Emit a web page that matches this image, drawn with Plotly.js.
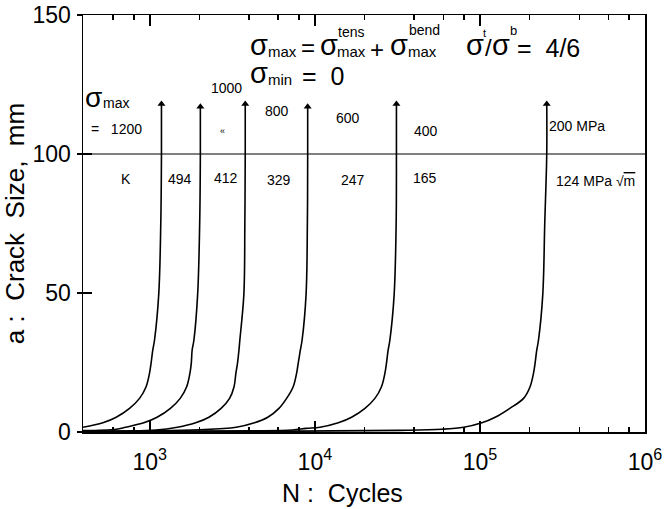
<!DOCTYPE html>
<html><head><meta charset="utf-8">
<script src="https://cdn.plot.ly/plotly-3.0.1.min.js"></script>
<style>html,body{margin:0;padding:0;background:#fff}</style>
</head><body><div id="chart" style="width:665px;height:509px"></div>
<script>
// ---- data ----
const stressLabels = ['1200', '1000', '800', '600', '400', '200 MPa'];
const kLabels = ['494', '412', '329', '247', '165', '124 MPa'];

const N1200 = [394, 520, 626, 754, 867, 950, 996, 1018, 1043, 1068, 1133, 1166, 1177, 1177];
const a1200 = [1.7, 3.3, 5.3, 8.5, 12.1, 16.3, 21.1, 24.7, 29.5, 33, 49.5, 75, 100, 118];

const N1000 = [394, 626, 713, 920, 1107, 1334, 1529, 1673, 1750, 1784, 1806, 1850, 1950, 2006, 2025, 2025];
const a1000 = [0.5, 1.0, 1.7, 3.3, 5.3, 8.5, 12.1, 16.3, 21.1, 24.7, 29.5, 33, 49.5, 75, 100, 117];

const N800 = [394, 1092, 1470, 1897, 2282, 2704, 3044, 3240, 3323, 3398, 3470, 3512, 3715, 3766, 3787, 3787];
const a800 = [0.3, 0.7, 1.7, 3.3, 5.3, 8.5, 12.1, 16.3, 21.1, 24.7, 29.5, 33, 49.5, 75, 100, 118];

const N600 = [394, 2006, 3341, 4309, 5185, 6061, 6745, 7394, 7751, 7926, 8171, 8367, 8849, 9010, 9048, 9048];
const a600 = [0.2, 0.8, 1.7, 3.3, 5.3, 8.5, 12.1, 16.3, 21.1, 24.7, 29.5, 33, 49.5, 75, 100, 117];

const N400 = [394, 4020, 7311, 8849, 10750, 13870, 16690, 20110, 23110, 25330, 26560, 27150, 27800, 28470, 30230, 31080, 31210, 31210];
const a400 = [0.1, 0.4, 0.7, 1.3, 1.7, 3.3, 5.3, 8.5, 12.1, 16.3, 21.1, 24.7, 29.5, 33, 49.5, 75, 100, 118];

const N200 = [394, 8059, 32400, 58920, 79690, 102800, 123700, 151800, 183800, 201300, 211100, 215800, 221000, 226300, 240300, 247000, 254000, 254000];
const a200 = [0.05, 0.3, 0.6, 1.0, 1.7, 3.3, 5.3, 8.5, 12.1, 16.3, 21.1, 24.7, 29.5, 33, 49.5, 75, 100, 118];

const majorTicks = [1e3, 1e4, 1e5, 1e6];
const majorText = ['10<sup>3</sup>', '10<sup>4</sup>', '10<sup>5</sup>', '10<sup>6</sup>'];
const minorTicks = [600, 800, 2000, 4000, 6000, 8000, 20000, 40000, 60000, 80000, 200000, 400000, 600000, 800000];
const yTicks = [0, 50, 100, 150];
const failureSize = 100;

// ---- drawing ----
const FONT = 'Liberation Sans, Arial, Helvetica, sans-serif';
const TICK = '#000';
const curves = [[N1200, a1200], [N1000, a1000], [N800, a800], [N600, a600], [N400, a400], [N200, a200]];

const traces = curves.map(([n, a], i) => ({
  x: n, y: a, type: 'scatter', mode: 'lines', name: stressLabels[i],
  line: {color: '#000', width: 1.6, shape: 'spline', smoothing: 1},
  hoverinfo: 'skip', showlegend: false
}));
traces.push({
  x: curves.map(c => c[0][c[0].length - 1]),
  y: curves.map(c => c[1][c[1].length - 1]),
  type: 'scatter', mode: 'markers', showlegend: false, hoverinfo: 'skip',
  marker: {symbol: 'triangle-up', size: 7, color: '#000'}
});
// invisible carriers so the tick-only overlay axes get drawn
[['x2', 'y'], ['x3', 'y'], ['x4', 'y'], ['x', 'y2']].forEach(([xa, ya]) => traces.push({
  x: [majorTicks[0]], y: [yTicks[0]], xaxis: xa, yaxis: ya, type: 'scatter', mode: 'markers',
  marker: {opacity: 0, size: 1}, showlegend: false, hoverinfo: 'skip'
}));

const L = 83, R = 645, T = 15, B = 432;
const px = x => (x - L) / (R - L);
const py = y => (B - y) / (B - T);
function txt(x, y, text, size, extra) {
  return Object.assign({
    xref: 'paper', yref: 'paper', x: px(x), y: py(y), xanchor: 'left', yanchor: 'middle',
    text: text, showarrow: false, font: {family: FONT, size: size, color: '#000'}
  }, extra || {});
}

const ann = [
  // formula row 1
  txt(248, 45, 'σ', 29), txt(266, 51, 'max', 15), txt(299, 48, '=', 24),
  txt(318, 45, 'σ', 29), txt(336, 32, 'tens', 14), txt(335, 51, 'max', 15),
  txt(368, 49, '+', 24),
  txt(388, 45, 'σ', 29), txt(407, 30, 'bend', 14), txt(406, 51, 'max', 15),
  txt(464, 45, 'σ', 29), txt(481, 33, 't', 11), txt(483, 48, '/', 24),
  txt(490, 45, 'σ', 29), txt(508, 31, 'b', 13), txt(515, 48, '=  4/6', 25),
  // formula row 2
  txt(248, 73, 'σ', 29), txt(266, 79, 'min', 15), txt(300, 76, '=  0', 25),
  // stress labels
  txt(83, 97, 'σ', 28), txt(101, 103, 'max', 14),
  txt(89, 129, '=   ' + stressLabels[0], 14),
  txt(209, 88, stressLabels[1], 14),
  txt(218, 131, '«', 9),
  txt(263, 111, stressLabels[2], 14),
  txt(334, 118, stressLabels[3], 14),
  txt(412, 131, stressLabels[4], 14),
  txt(547, 126, stressLabels[5], 14),
  // K labels
  txt(119, 179, 'K', 14),
  txt(166, 179, kLabels[0], 14),
  txt(212, 178, kLabels[1], 14),
  txt(265, 180, kLabels[2], 14),
  txt(339, 180, kLabels[3], 14),
  txt(411, 178, kLabels[4], 14),
  txt(554, 181, kLabels[5] + ' √<span style="text-decoration:overline">m</span>', 14),
  // x axis title
  txt(342, 493, 'N :  Cycles', 25, {xanchor: 'center'})
];

const xr = [Math.log10(394), 6];
const tickAxis = (side, vals, len) => ({
  type: 'log', range: xr, overlaying: 'x', anchor: 'y', side: side,
  showline: false, ticks: 'inside', ticklen: len, tickwidth: 1.5, tickcolor: TICK,
  tickmode: 'array', tickvals: vals, showticklabels: false,
  showgrid: false, zeroline: false, automargin: false
});

const layout = {
  width: 665, height: 509,
  margin: {l: L, r: 665 - R, t: T, b: 509 - B},
  paper_bgcolor: '#fff', plot_bgcolor: '#fff',
  font: {family: FONT, color: '#000'},
  showlegend: false,
  xaxis: {
    type: 'log', range: xr,
    showline: true, linecolor: '#000', linewidth: 1.5, mirror: true,
    ticks: 'inside', ticklen: 11, tickwidth: 1.5, tickcolor: TICK,
    tickmode: 'array', tickvals: majorTicks, ticktext: majorText,
    tickfont: {size: 23, family: FONT}, ticklabelstandoff: 9,
    showgrid: false, zeroline: false, automargin: false
  },
  xaxis2: tickAxis('bottom', minorTicks, 5),
  xaxis3: tickAxis('top', majorTicks, 11),
  xaxis4: tickAxis('top', minorTicks, 5),
  yaxis: {
    range: [0, 150], showline: true, linecolor: '#000', linewidth: 1.5, mirror: true,
    ticks: 'inside', ticklen: 9, tickwidth: 1.5, tickcolor: '#000',
    tickmode: 'array', tickvals: yTicks,
    tickfont: {size: 23, family: FONT}, ticklabelstandoff: 6,
    showgrid: false, zeroline: false,
    title: {text: 'a :  Crack  Size,  mm', font: {size: 26, family: FONT}, standoff: 5},
    automargin: false
  },
  yaxis2: {
    range: [0, 150], overlaying: 'y', anchor: 'x', side: 'left',
    showline: false, ticks: 'outside', ticklen: 5, tickwidth: 1.5, tickcolor: '#000',
    tickmode: 'array', tickvals: yTicks, showticklabels: false,
    showgrid: false, zeroline: false, automargin: false
  },
  shapes: [{type: 'line', xref: 'paper', x0: 0, x1: 1, yref: 'y', y0: failureSize, y1: failureSize,
            line: {color: '#000', width: 1.2}}],
  annotations: ann
};

Plotly.newPlot('chart', traces, layout, {displayModeBar: false, staticPlot: true});
</script></body></html>
